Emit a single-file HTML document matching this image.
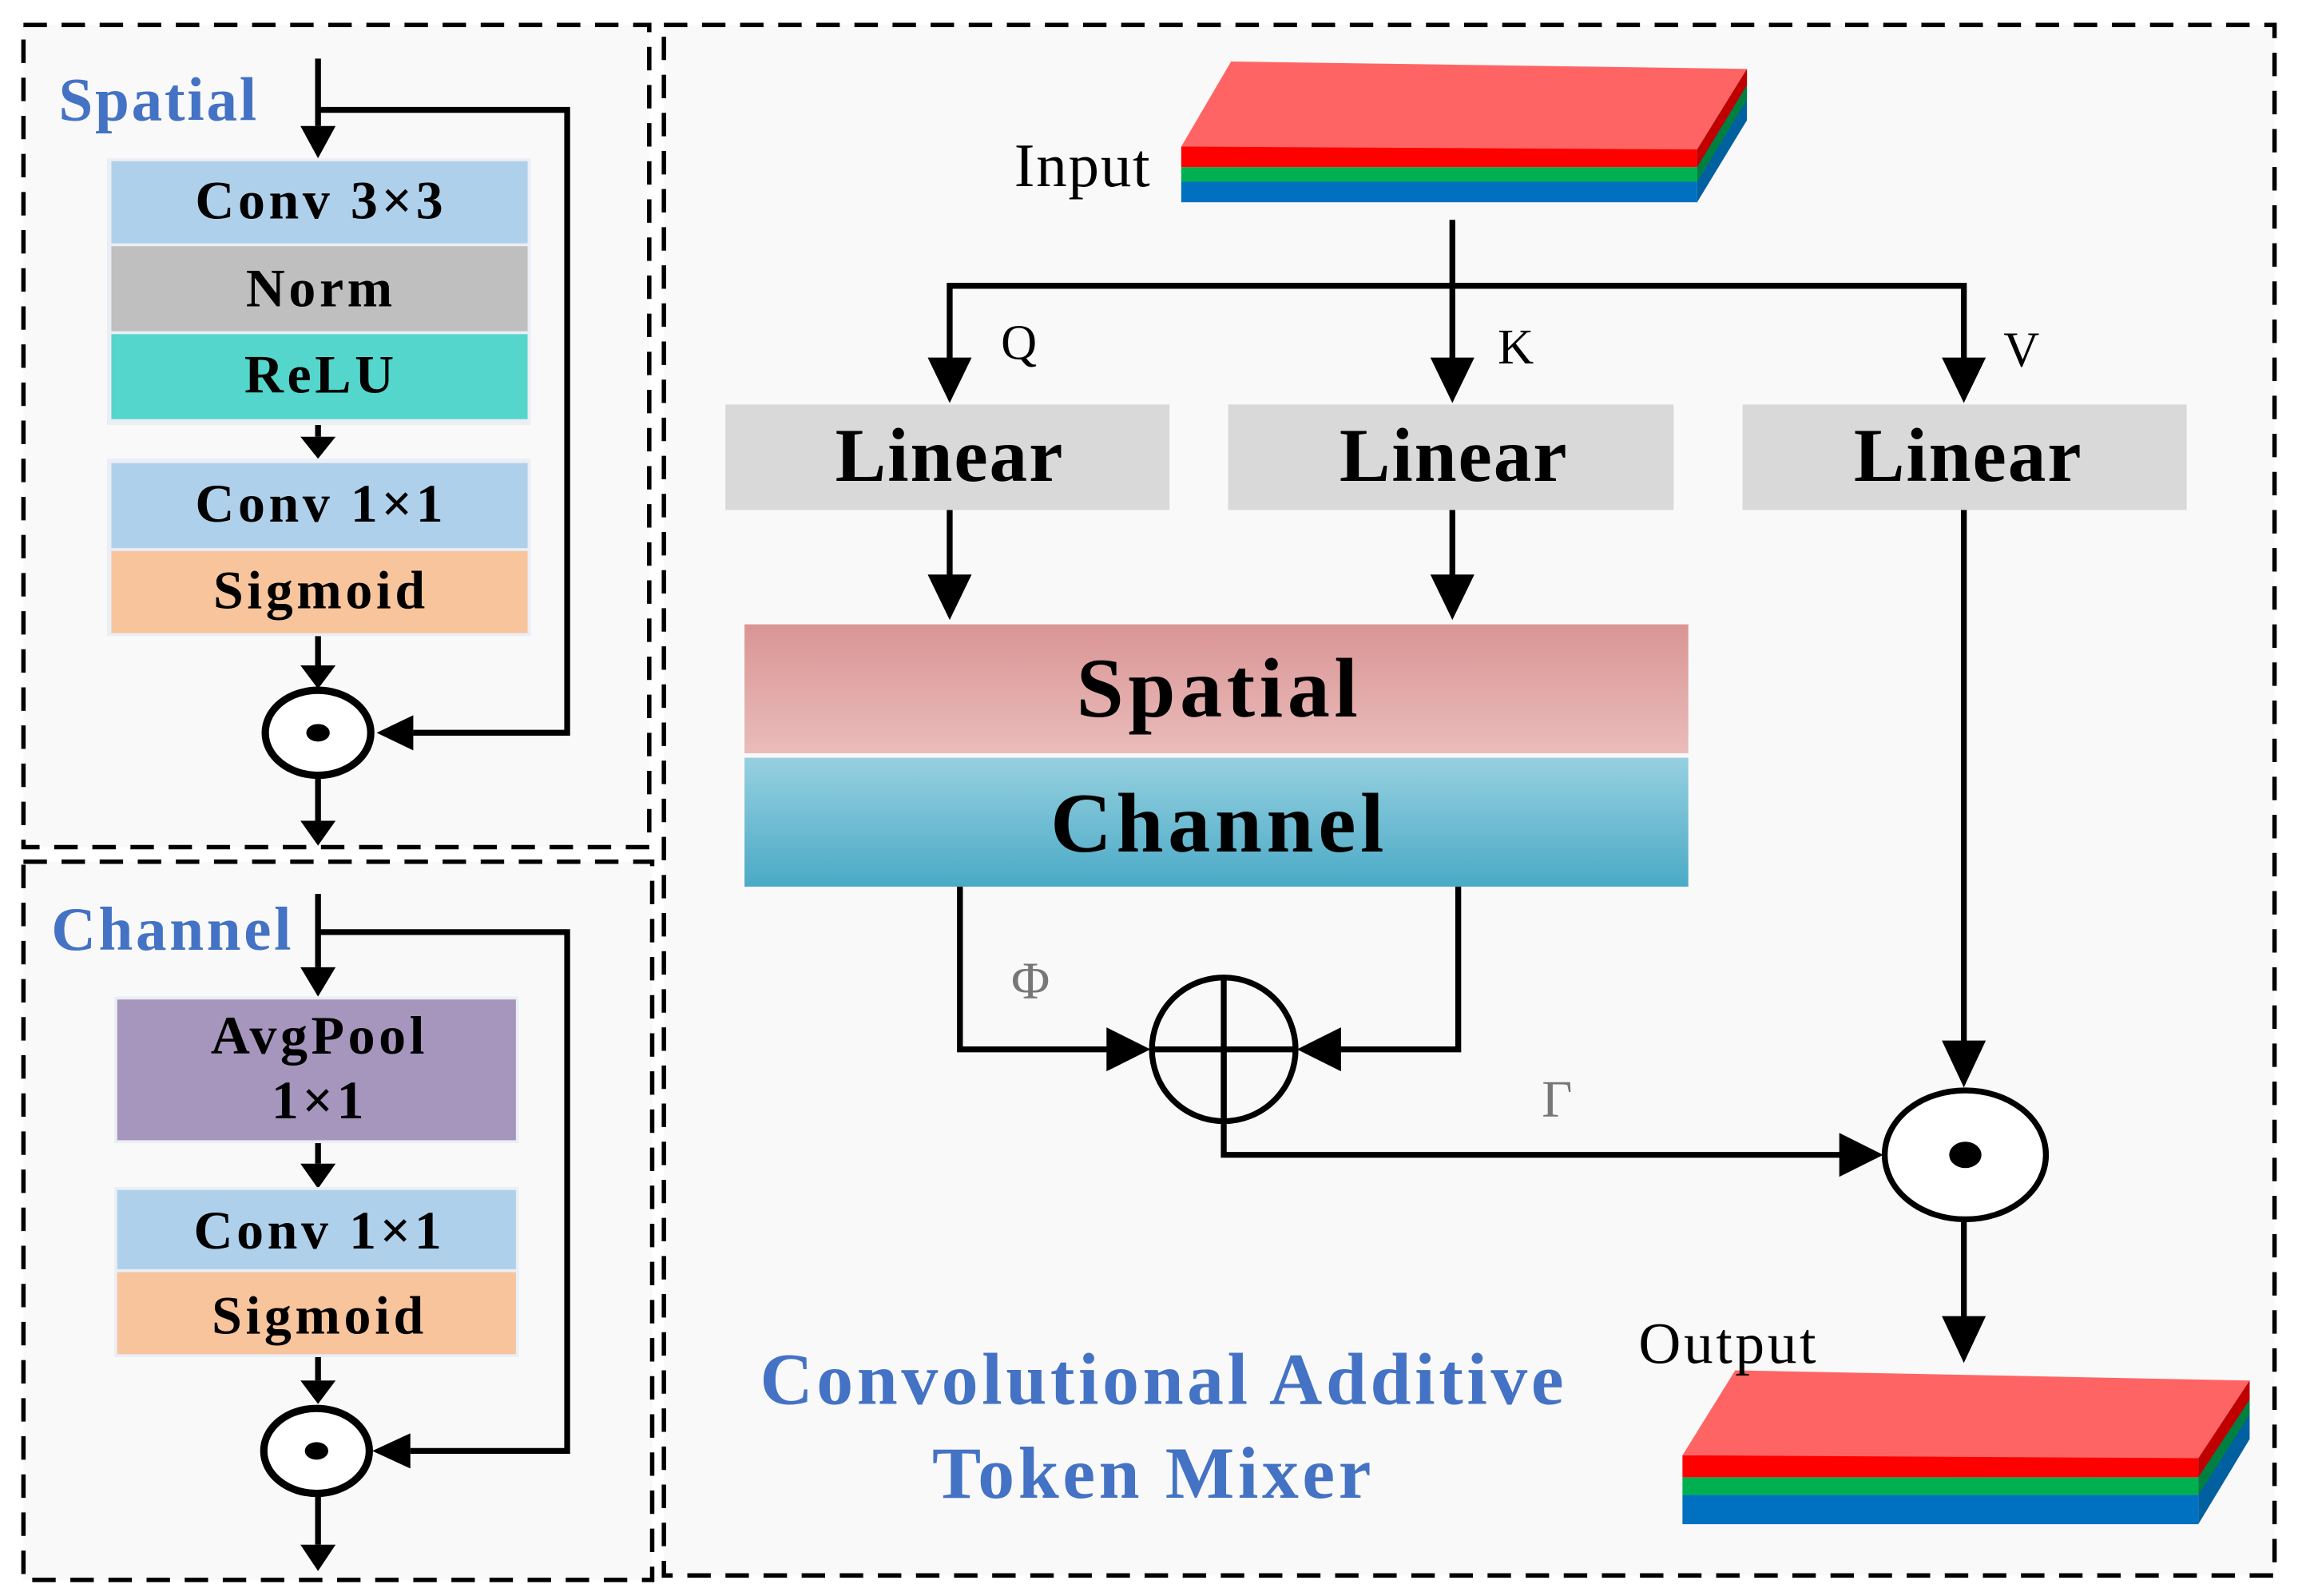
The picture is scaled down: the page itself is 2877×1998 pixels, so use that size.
<!DOCTYPE html>
<html><head><meta charset="utf-8"><style>html,body{margin:0;padding:0;background:#fff}svg{display:block}</style></head>
<body>
<svg width="2877" height="1998" viewBox="0 0 1568 1089" preserveAspectRatio="none" xmlns="http://www.w3.org/2000/svg" font-family="'Liberation Serif',serif">
<defs>
<linearGradient id="gs" x1="0" y1="0" x2="0" y2="1"><stop offset="0" stop-color="#d99594"/><stop offset="1" stop-color="#e9bcbb"/></linearGradient>
<linearGradient id="gc" x1="0" y1="0" x2="0" y2="1"><stop offset="0" stop-color="#97d0e0"/><stop offset="1" stop-color="#4aaac6"/></linearGradient>
</defs>
<rect width="1568" height="1089" fill="#fff"/>
<g fill="#f9f9f9" stroke="#000" stroke-width="3" stroke-dasharray="16,10">
<rect x="16" y="17" width="427" height="561"/>
<rect x="16" y="588" width="429" height="490"/>
<rect x="453" y="17" width="1099" height="1058"/>
</g>
<g stroke="#000" stroke-width="4" fill="none">
<path d="M217,40V86" /><path d="M217,75H387V500H282"/>
<path d="M217,286V298"/><path d="M217,434V454"/><path d="M217,530V560"/>
<path d="M217,610V660"/><path d="M217,636H387V990H280"/>
<path d="M217,778V794"/><path d="M217,924V942"/><path d="M217,1020V1054"/>
<path d="M991,150V255"/><path d="M648,255V195H1340V255"/>
<path d="M648,348V402"/><path d="M991,348V402"/>
<path d="M655,605V716H765"/><path d="M995,605V716H905"/>
<path d="M835,716V788H1265"/>
<path d="M1340,348V718"/><path d="M1340,833V910"/>
</g>
<g fill="#000">
<path d="M205,86L229,86L217,108z"/><path d="M205,298L229,298L217,313z"/><path d="M205,454L229,454L217,470z"/><path d="M205,560L229,560L217,577z"/>
<path d="M282,488L282,512L257,500z"/>
<path d="M205,660L229,660L217,680z"/><path d="M205,794L229,794L217,811z"/><path d="M205,942L229,942L217,958z"/><path d="M205,1054L229,1054L217,1072z"/>
<path d="M280,978L280,1002L254,990z"/>
<path d="M633,244L663,244L648,275z"/><path d="M976,244L1006,244L991,275z"/><path d="M1325,244L1355,244L1340,275z"/>
<path d="M633,392L663,392L648,423z"/><path d="M976,392L1006,392L991,423z"/>
<path d="M755,701L755,731L785,716z"/><path d="M915,701L915,731L885,716z"/>
<path d="M1255,773L1255,803L1285,788z"/>
<path d="M1325,710L1355,710L1340,742z"/><path d="M1325,898L1355,898L1340,930z"/>
</g>
<rect x="73" y="108" width="289" height="182" fill="#eaeef5"/>
<rect x="76" y="110" width="284" height="56" fill="#afd0ea"/>
<rect x="76" y="168" width="284" height="58" fill="#bfbfbf"/>
<rect x="76" y="228" width="284" height="58" fill="#55d6cc"/>
<rect x="73" y="313" width="289" height="121" fill="#eaeef5"/>
<rect x="76" y="316" width="284" height="58" fill="#afd0ea"/>
<rect x="76" y="376" width="284" height="56" fill="#f8c49c"/>
<g font-weight="bold" font-size="37" text-anchor="middle" fill="#000" letter-spacing="2.5">
<text x="219" y="149">Conv 3×3</text><text x="219" y="209">Norm</text><text x="219" y="268">ReLU</text>
<text x="219" y="356">Conv 1×1</text><text x="219" y="415">Sigmoid</text>
</g>
<ellipse cx="217" cy="500" rx="36" ry="29" fill="#fff" stroke="#000" stroke-width="5"/><ellipse cx="217" cy="500" rx="8" ry="6"/>
<text x="40" y="82" font-size="42" font-weight="bold" fill="#4472c4" letter-spacing="1.5">Spatial</text>
<rect x="78" y="680" width="276" height="100" fill="#eaeef5"/>
<rect x="80" y="682" width="272" height="96" fill="#a696bd"/>
<rect x="78" y="810" width="276" height="116" fill="#eaeef5"/>
<rect x="80" y="812" width="272" height="54" fill="#afd0ea"/>
<rect x="80" y="868" width="272" height="56" fill="#f8c49c"/>
<g font-weight="bold" font-size="37" text-anchor="middle" fill="#000" letter-spacing="2.5">
<text x="218" y="719">AvgPool</text><text x="218" y="763">1×1</text>
<text x="218" y="852">Conv 1×1</text><text x="218" y="910">Sigmoid</text>
</g>
<ellipse cx="216" cy="990" rx="36" ry="29" fill="#fff" stroke="#000" stroke-width="5"/><ellipse cx="216" cy="990" rx="8" ry="6"/>
<text x="35" y="648" font-size="42" font-weight="bold" fill="#4472c4" letter-spacing="2">Channel</text>
<g>
<path d="M1158,138L1192,82L1192,47L1158,100z" fill="#0060a0"/>
<path d="M1158,124L1192,68L1192,58L1158,114z" fill="#008040"/>
<path d="M1158,114L1192,58L1192,47L1158,102z" fill="#c00000"/>
<rect x="806" y="124" width="352" height="14" fill="#0070c0"/>
<rect x="806" y="114" width="352" height="10" fill="#00b050"/>
<rect x="806" y="100" width="352" height="14" fill="#ff0000"/>
<path d="M806,100L840,42L1192,47L1158,102z" fill="#ff6464"/>
</g>
<text x="692" y="127" font-size="42" letter-spacing="1">Input</text>
<rect x="495" y="276" width="303" height="72" fill="#d9d9d9"/>
<rect x="838" y="276" width="304" height="72" fill="#d9d9d9"/>
<rect x="1189" y="276" width="303" height="72" fill="#d9d9d9"/>
<g font-weight="bold" font-size="52" text-anchor="middle" letter-spacing="1"><text x="648" y="328">Linear</text><text x="992" y="328">Linear</text><text x="1343" y="328">Linear</text></g>
<g font-size="34"><text x="683" y="245">Q</text><text x="1022" y="248">K</text><text x="1367" y="250">V</text></g>
<rect x="508" y="426" width="644" height="88" fill="url(#gs)"/>
<rect x="508" y="517" width="644" height="88" fill="url(#gc)"/>
<g font-weight="bold" font-size="58" text-anchor="middle" letter-spacing="3"><text x="832" y="489">Spatial</text><text x="832" y="581">Channel</text></g>
<circle cx="835" cy="716" r="49" fill="none" stroke="#000" stroke-width="4"/>
<path d="M786,716H884M835,667V765" stroke="#000" stroke-width="4"/>
<text x="690" y="681" font-size="36" fill="#777">Φ</text>
<text x="1052" y="762" font-size="36" fill="#777">Γ</text>
<ellipse cx="1341" cy="788" rx="55" ry="44" fill="#fff" stroke="#000" stroke-width="4"/><ellipse cx="1341" cy="788" rx="11" ry="9"/>
<g>
<path d="M1500,1040L1535,982L1535,942L1500,993z" fill="#0060a0"/>
<path d="M1500,1020L1535,965L1535,955L1500,1008z" fill="#008040"/>
<path d="M1500,1008L1535,955L1535,942L1500,995z" fill="#c00000"/>
<rect x="1148" y="1020" width="352" height="20" fill="#0070c0"/>
<rect x="1148" y="1008" width="352" height="12" fill="#00b050"/>
<rect x="1148" y="993" width="352" height="15" fill="#ff0000"/>
<path d="M1148,993L1184,935L1535,942L1500,995z" fill="#ff6464"/>
</g>
<text x="1118" y="930" font-size="40" letter-spacing="2">Output</text>
<g font-weight="bold" font-size="50" fill="#4472c4" text-anchor="middle" letter-spacing="2.5"><text x="794" y="958">Convolutional Additive</text><text x="787" y="1022">Token Mixer</text></g>
</svg>
</body></html>
